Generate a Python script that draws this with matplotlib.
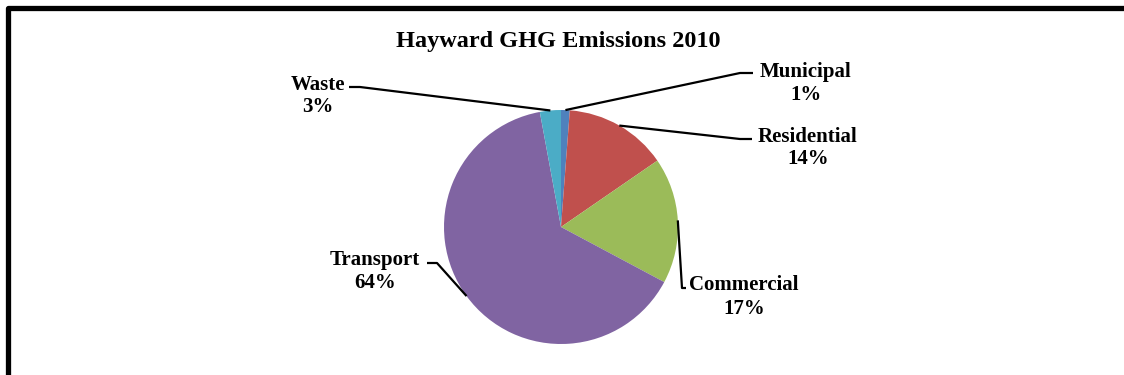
import numpy as np
import matplotlib
matplotlib.use("Agg")
import matplotlib.pyplot as plt

# data, clockwise from the top (percent of total)
sectors = ["Municipal", "Residential", "Commercial", "Transport", "Waste"]
shares = [1.2, 14.2, 17.4, 64.3, 2.9]
colors = ["#4F81BD", "#C0504D", "#9BBB59", "#8064A2", "#4BACC6"]
title = "Hayward GHG Emissions 2010"

W, H = 1124, 375
fig = plt.figure(figsize=(W / 100, H / 100), dpi=100)
ax = fig.add_axes([0, 0, 1, 1])

# work in pixel units, y measured from the top of the image
def py(y):
    return H - y

cx, cy, r = 561, 227, 117
wedges, _ = ax.pie(shares, colors=colors, startangle=90, counterclock=False,
                   center=(cx, py(cy)), radius=r, frame=False,
                   wedgeprops=dict(linewidth=0))
ax.set_xlim(0, W)
ax.set_ylim(0, H)
ax.set_aspect("auto")
ax.axis("off")

# label layout: text centre, knee of leader line, end of short horizontal stub
layout = {
    "Municipal":   ((806, 83),  (740, 73),  (753, 73)),
    "Residential": ((808, 148), (740, 139), (752, 139)),
    "Commercial":  ((744, 297), (682, 288), (686, 288)),
    "Transport":   ((375, 272), (437, 263), (427, 263)),
    "Waste":       ((318, 96),  (360, 87),  (349, 87)),
}

font = dict(family="Liberation Serif", weight="bold")
total = sum(shares)
for w, name, val in zip(wedges, sectors, shares):
    mid = np.deg2rad((w.theta1 + w.theta2) / 2)
    ex = cx + r * np.cos(mid)
    ey = py(cy) + r * np.sin(mid)
    (tx, ty), knee, stub = layout[name]
    ax.plot([ex, knee[0], stub[0]], [ey, py(knee[1]), py(stub[1])],
            color="black", lw=1.6, solid_capstyle="butt")
    ax.text(tx, py(ty), f"{name}\n{round(val / total * 100):.0f}%",
            ha="center", va="center", fontsize=15, linespacing=1.2, **font)

ax.text(558, py(42), title, ha="center", va="center", fontsize=17.5, **font)

# frame around the chart
ax.plot([7.5, 7.5, W], [0, py(7.5), py(7.5)], color="black", lw=3.8,
        solid_joinstyle="round", solid_capstyle="butt")

fig.savefig("out.png", dpi=100)
